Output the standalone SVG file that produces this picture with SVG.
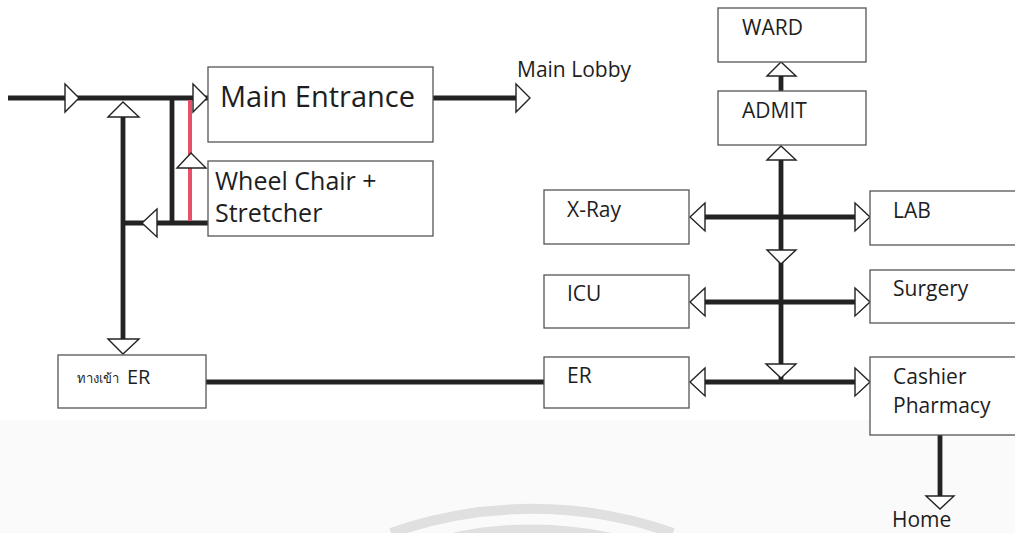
<svg xmlns="http://www.w3.org/2000/svg" width="1015" height="533" viewBox="0 0 1015 533">
  <defs>
    <style>
      .box { fill: #ffffff; stroke: #555555; stroke-width: 1.3; }
      .flow { fill: none; stroke: #232323; stroke-width: 4.8; }
      .red { fill: none; stroke: #e8506a; stroke-width: 4; }
      .head { fill: #ffffff; stroke: #232323; stroke-width: 1.4; stroke-linejoin: miter; }
      .lbl { font-family: "Open Sans", "Noto Sans", "DejaVu Sans", sans-serif; fill: #1e1e1e; }
      .sm { font-size: 21px; }
      .wm { fill: none; stroke: #e0e0e0; stroke-width: 10; }
    </style>
  </defs>

  <!-- page -->
  <rect x="0" y="0" width="1015" height="533" fill="#ffffff"/>
  <rect x="0" y="420" width="1015" height="113" fill="#fafafa"/>
  <path class="wm" d="M 391 533 A 424 424 0 0 1 673 533"/>
  <path class="wm" d="M 452 538 A 380 380 0 0 1 612 538"/>

  <!-- connectors -->
  <g id="connectors">
    <!-- entrance side -->
    <line class="flow" x1="8" y1="98" x2="208" y2="98"/>
    <line class="flow" x1="172" y1="98" x2="172" y2="223"/>
    <line class="flow" x1="123" y1="117" x2="123" y2="340"/>
    <line class="flow" x1="121" y1="223" x2="208" y2="223"/>
    <line class="red" x1="190" y1="100" x2="190" y2="221"/>
    <polygon class="head" points="65,84 79,98 65,112"/>
    <polygon class="head" points="193,84 207,98 193,112"/>
    <polygon class="head" points="108,117 123,102 139,117"/>
    <polygon class="head" points="177,168 191,153 206,168"/>
    <polygon class="head" points="157,209 142,223 157,237"/>
    <polygon class="head" points="108,339 123,354 139,339"/>

    <!-- main lobby -->
    <line class="flow" x1="430" y1="98" x2="516" y2="98"/>
    <polygon class="head" points="516,84 530,98 516,112"/>

    <!-- ER link -->
    <line class="flow" x1="206" y1="382" x2="544" y2="382"/>

    <!-- central spine -->
    <line class="flow" x1="781" y1="160" x2="781" y2="384"/>
    <line class="flow" x1="781" y1="76" x2="781" y2="91"/>
    <polygon class="head" points="767,76 781,62 796,76"/>
    <polygon class="head" points="767,160 781,146 796,160"/>
    <polygon class="head" points="767,250 781,264 796,250"/>
    <polygon class="head" points="766,364 781,378 796,364"/>

    <line class="flow" x1="705" y1="217" x2="855" y2="217"/>
    <polygon class="head" points="705,203 690,217 705,231"/>
    <polygon class="head" points="855,203 870,217 855,231"/>

    <line class="flow" x1="705" y1="302" x2="855" y2="302"/>
    <polygon class="head" points="705,288 690,302 705,316"/>
    <polygon class="head" points="855,288 870,302 855,316"/>

    <line class="flow" x1="705" y1="382" x2="855" y2="382"/>
    <polygon class="head" points="705,368 690,382 705,396"/>
    <polygon class="head" points="855,368 870,382 855,396"/>

    <!-- to home -->
    <line class="flow" x1="940" y1="435" x2="940" y2="497"/>
    <polygon class="head" points="926,496 940,509 954,496"/>
  </g>

  <!-- nodes -->
  <g id="main-entrance">
    <rect class="box" x="208" y="67" width="225" height="75"/>
    <text class="lbl" x="220" y="107" font-size="29">Main Entrance</text>
  </g>
  <g id="wheel-chair">
    <rect class="box" x="208" y="161" width="225" height="75"/>
    <text class="lbl" x="215" y="190" font-size="25">Wheel Chair +</text>
    <text class="lbl" x="215" y="222" font-size="25">Stretcher</text>
  </g>
  <g id="main-lobby">
    <text class="lbl sm" x="517" y="77">Main Lobby</text>
  </g>
  <g id="er-entrance">
    <rect class="box" x="58" y="355" width="148" height="53"/>
    <text class="lbl" x="77" y="383" font-size="13">ทางเข้า</text>
    <text class="lbl" x="127" y="384" font-size="20">ER</text>
  </g>
  <g id="ward">
    <rect class="box" x="718" y="8" width="148" height="54"/>
    <text class="lbl sm" x="742" y="35">WARD</text>
  </g>
  <g id="admit">
    <rect class="box" x="718" y="91" width="148" height="54"/>
    <text class="lbl sm" x="742" y="118">ADMIT</text>
  </g>
  <g id="xray">
    <rect class="box" x="544" y="190" width="145" height="54"/>
    <text class="lbl sm" x="567" y="217">X-Ray</text>
  </g>
  <g id="icu">
    <rect class="box" x="544" y="275" width="145" height="53"/>
    <text class="lbl sm" x="567" y="301">ICU</text>
  </g>
  <g id="er">
    <rect class="box" x="544" y="357" width="145" height="51"/>
    <text class="lbl sm" x="567" y="383">ER</text>
  </g>
  <g id="lab">
    <rect class="box" x="870" y="191" width="150" height="54"/>
    <text class="lbl sm" x="893" y="218">LAB</text>
  </g>
  <g id="surgery">
    <rect class="box" x="870" y="270" width="150" height="53"/>
    <text class="lbl sm" x="893" y="296">Surgery</text>
  </g>
  <g id="cashier">
    <rect class="box" x="870" y="357" width="150" height="78"/>
    <text class="lbl sm" x="893" y="384">Cashier</text>
    <text class="lbl sm" x="893" y="413">Pharmacy</text>
  </g>
  <g id="home">
    <text class="lbl sm" x="892" y="527">Home</text>
  </g>
</svg>
